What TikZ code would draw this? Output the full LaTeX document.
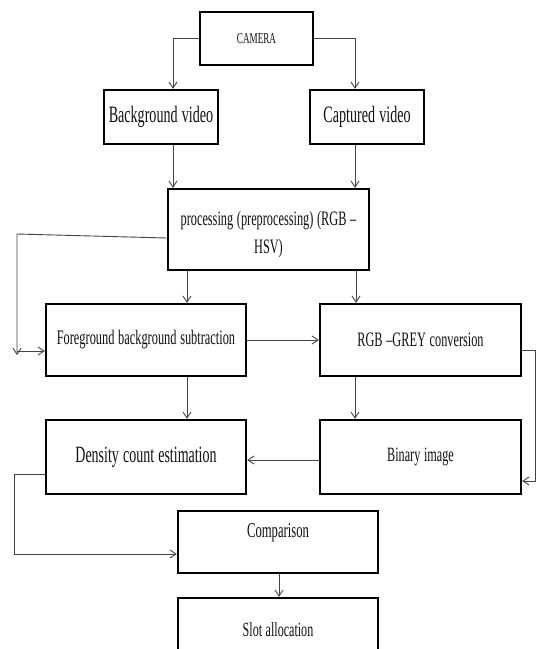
\documentclass[tikz,border=0pt]{standalone}
\usepackage{fontspec}
\setmainfont{Liberation Serif}
\newfontfamily\tnr[FakeStretch=0.6]{Liberation Serif}
\usetikzlibrary{arrows.meta,calc}
\definecolor{linegray}{HTML}{444444}
\definecolor{txt}{HTML}{111111}
\tikzset{
  box/.style={draw=black, line width=2.4pt, fill=white, inner sep=0pt, align=center, text=txt},
  arr/.style={draw=linegray, line width=0.9pt, -{Straight Barb[length=6pt,width=8pt]}},
  ln/.style={draw=linegray, line width=0.9pt},
}
\newcommand{\fs}[1]{\tnr\fontsize{#1}{28}\selectfont\spaceskip=0.18em plus 0.05em}
\begin{document}
\begin{tikzpicture}[x=1pt,y=-1pt]
\useasboundingbox (0,0) rectangle (539,649);
\fill[white] (0,0) rectangle (539,649);
\clip (0,0) rectangle (539,649);
% boxes
\node[box, minimum width=113pt, minimum height=53pt, font=\fs{15.2}] (cam) at (256.5,38.5) {CAMERA};
\node[box, minimum width=114pt, minimum height=54pt, font=\fs{23.5}] (bg) at (161,117) {Background video};
\node[box, minimum width=114pt, minimum height=54pt, font=\fs{23.5}] (cap) at (367,117) {Captured video};
\node[box, minimum width=201pt, minimum height=81pt, font=\fs{20.5}] (proc) at (268.5,229.5) {\rule{0pt}{24pt}processing (preprocessing) (RGB –\\HSV)};
\node[box, minimum width=200pt, minimum height=72pt, font=\fs{20.6}] (fg) at (146,340) {Foreground background subtraction};
\node[box, minimum width=201pt, minimum height=72pt, font=\fs{20.5}] (rgb) at (420.5,340) {RGB –GREY conversion};
\node[box, minimum width=200pt, minimum height=74pt, font=\fs{23.3}] (dens) at (146,457) {Density count estimation};
\node[box, minimum width=201pt, minimum height=74pt, font=\fs{20.3}] (bin) at (420.5,457) {Binary image};
\node[box, minimum width=200pt, minimum height=62pt, font=\fs{21.1}] (comp) at (278,542) {\rule{0pt}{18pt}Comparison\\\mbox{}};
\node[box, minimum width=200pt, minimum height=72pt, font=\fs{20.1}] (slot) at (278,634) {Slot allocation\rule[-8pt]{0pt}{8pt}};
% connectors
\draw[arr] (cam.west) -| ([xshift=12pt]bg.north);
\draw[arr] (cam.east) -| ([xshift=-12pt]cap.north);
\draw[arr] ([xshift=12pt]bg.south) -- ([xshift=12pt]bg.south |- proc.north);
\draw[arr] ([xshift=-12pt]cap.south) -- ([xshift=-12pt]cap.south |- proc.north);
\draw[arr] ([xshift=41pt]fg.north |- proc.south) -- ([xshift=41pt]fg.north);
\draw[arr] ([xshift=-64.5pt]rgb.north |- proc.south) -- ([xshift=-64.5pt]rgb.north);
\coordinate (pl1) at (17,234);
\coordinate (pl2) at (17,355);
\coordinate (pl3) at (17,351);
\draw[arr] ([yshift=-8.5pt]proc.west) -- (pl1) -- (pl2);
\draw[arr] (pl3) -- (pl3 -| fg.west);
\draw[arr] (fg.east) -- (rgb.west);
\coordinate (rl1) at (535,350);
\coordinate (rl2) at (535,481);
\draw[arr] ([yshift=-10pt]rgb.east) -- (rl1) -- (rl2) -- (rl2 -| bin.east);
\draw[arr] ([xshift=41pt]fg.south) -- ([xshift=41pt]dens.north);
\draw[arr] ([xshift=-65.5pt]rgb.south) -- ([xshift=-65.5pt]bin.north);
\draw[arr] ([yshift=-3pt]bin.west) -- ([yshift=-3pt]dens.east);
\coordinate (dl1) at (14,474);
\coordinate (dl2) at (14,554);
\draw[arr] (dl1 -| dens.west) -- (dl1) -- (dl2) -- (dl2 -| comp.west);
\draw[arr] ([xshift=1pt]comp.south) -- ([xshift=1pt]slot.north);
\end{tikzpicture}
\end{document}
